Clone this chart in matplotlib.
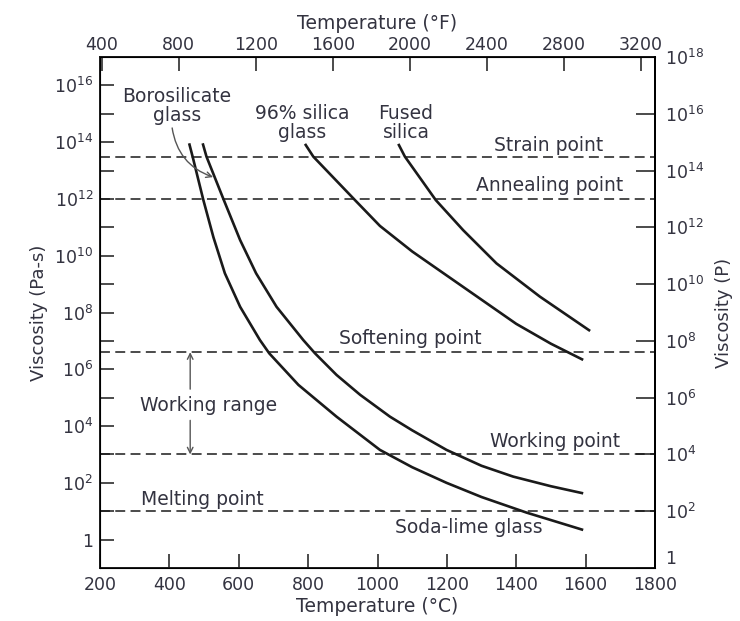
import numpy as np
import matplotlib.pyplot as plt
from matplotlib.ticker import FixedLocator, FuncFormatter, NullFormatter

plt.rcParams.update({
    "font.family": ["DejaVu Sans"],
    "mathtext.fontset": "dejavusans",
})

# temperature in deg C and log10 of viscosity in Pa-s
soda_T = [457, 467, 498, 527, 560, 604, 661, 688, 738, 772, 882, 1007, 1100, 1199, 1300, 1430, 1593]
soda_log = [13.96, 13.49, 11.96, 10.65, 9.38, 8.20, 7.03, 6.56, 5.90, 5.45, 4.33, 3.16, 2.55, 2.00, 1.50, 0.95, 0.34]

boro_T = [496, 507, 557, 604, 650, 709, 786, 820, 882, 950, 1036, 1100, 1199, 1300, 1391, 1500, 1593]
boro_log = [13.96, 13.49, 11.96, 10.55, 9.38, 8.20, 7.03, 6.56, 5.80, 5.10, 4.33, 3.85, 3.16, 2.60, 2.22, 1.88, 1.63]

silica96_T = [791, 815, 935, 1007, 1100, 1200, 1300, 1400, 1500, 1593]
silica96_log = [13.94, 13.49, 11.96, 11.05, 10.15, 9.30, 8.45, 7.60, 6.90, 6.33]

fused_T = [1060, 1079, 1168, 1247, 1343, 1468, 1613]
fused_log = [13.94, 13.49, 11.96, 10.90, 9.73, 8.56, 7.35]

# reference viscosities (Pa-s)
ref_eta = [3e13, 1e12, 4e6, 1e3, 1e1]

left_ticks = [1e0, 1e2, 1e4, 1e6, 1e8, 1e10, 1e12, 1e14, 1e16]
right_ticks_P = [1e0, 1e2, 1e4, 1e6, 1e8, 1e10, 1e12, 1e14, 1e16, 1e18]
c_ticks = [200, 400, 600, 800, 1000, 1200, 1400, 1600, 1800]
f_ticks = [400, 800, 1200, 1600, 2000, 2400, 2800, 3200]

ink = "#1a1a1a"
txt = "#333340"


def pow_label(v, pos=None):
    e = int(round(np.log10(v)))
    if e == 0:
        return "1"
    return r"$10^{%d}$" % e


fig = plt.figure(figsize=(7.4, 6.21), dpi=100)
ax = fig.add_axes([100 / 740, 1 - 568 / 621, 555 / 740, 511 / 621])

for T, lg in [(soda_T, soda_log), (boro_T, boro_log), (silica96_T, silica96_log), (fused_T, fused_log)]:
    ax.plot(T, 10 ** np.array(lg), color=ink, lw=1.9, solid_capstyle="butt",
            solid_joinstyle="round")

for eta in ref_eta:
    ax.axhline(eta, color=ink, lw=1.1, ls=(0, (6.5, 3.5)))

ax.set_yscale("log")
ax.set_xlim(200, 1800)
ax.set_ylim(1e-1, 1e17)

ax.xaxis.set_major_locator(FixedLocator(c_ticks))
ax.yaxis.set_major_locator(FixedLocator(left_ticks))
ax.yaxis.set_minor_locator(FixedLocator([10.0 ** e for e in range(1, 17, 2)]))
ax.yaxis.set_major_formatter(FuncFormatter(pow_label))
ax.yaxis.set_minor_formatter(NullFormatter())
ax.tick_params(axis="both", which="both", direction="in", length=10, width=1.1,
               color=ink, labelsize=12.5, labelcolor=txt)
ax.tick_params(axis="x", pad=6)
ax.tick_params(axis="y", pad=5)
for s in ax.spines.values():
    s.set_linewidth(1.4)
    s.set_color(ink)

ax.set_xlabel("Temperature (°C)", fontsize=13.5, color=txt, labelpad=2)
ax.set_ylabel("Viscosity (Pa-s)", fontsize=13, color=txt, labelpad=4)

# top axis in Fahrenheit
top = ax.secondary_xaxis("top", functions=(lambda c: c * 9 / 5 + 32, lambda f: (f - 32) * 5 / 9))
top.xaxis.set_major_locator(FixedLocator(f_ticks))
top.tick_params(direction="in", length=10, width=1.1, color=ink, labelsize=12.5,
                labelcolor=txt, pad=2)
top.spines["top"].set_linewidth(1.4)
top.set_xlabel("Temperature (°F)", fontsize=13.5, color=txt, labelpad=5)

# right axis in poise
rax = ax.twinx()
rax.set_yscale("log")
rax.set_ylim(1e0, 1e18)
rax.yaxis.set_major_locator(FixedLocator(right_ticks_P))
rax.yaxis.set_minor_locator(FixedLocator([]))
rax.yaxis.set_major_formatter(FuncFormatter(pow_label))
rax.tick_params(axis="y", direction="in", length=14, width=1.1, color=ink,
                labelsize=12.5, labelcolor=txt, pad=7)
rax.spines["right"].set_linewidth(1.4)
rax.set_ylabel("Viscosity (P)", fontsize=13, color=txt, labelpad=8)
# the "1" at the bottom corner sits just above the 1800 label
rax.yaxis.get_major_ticks()[0].label2.set_va("bottom")

# curve names
fs = 13.5
ax.text(422, 10 ** 15.28, "Borosilicate\nglass", ha="center", va="center", fontsize=fs,
        color=txt, linespacing=1.0)
ax.text(782, 10 ** 14.68, "96% silica\nglass", ha="center", va="center", fontsize=fs,
        color=txt, linespacing=1.0)
ax.text(1082, 10 ** 14.68, "Fused\nsilica", ha="center", va="center", fontsize=fs,
        color=txt, linespacing=1.0)
ax.text(1264, 10 ** 0.44, "Soda-lime glass", ha="center", va="center",
        fontsize=fs, color=txt)
ax.annotate("", xy=(526, 10 ** 12.77), xytext=(408, 10 ** 14.5),
            arrowprops=dict(arrowstyle="->", color="#555555", lw=1.0,
                            connectionstyle="arc3,rad=0.3", shrinkA=0, shrinkB=0))

# reference point names
ax.text(1650, 10 ** 13.9, "Strain point", ha="right", va="center", fontsize=fs, color=txt)
ax.text(1708, 10 ** 12.49, "Annealing point", ha="right", va="center", fontsize=fs, color=txt)
ax.text(1094, 10 ** 7.1, "Softening point", ha="center", va="center", fontsize=fs, color=txt)
ax.text(1699, 10 ** 3.47, "Working point", ha="right", va="center", fontsize=fs, color=txt)
ax.text(494, 10 ** 1.4, "Melting point", ha="center", va="center", fontsize=fs, color=txt)

# working range
ax.text(315, 10 ** 4.74, "Working range", ha="left", va="center", fontsize=fs, color=txt)
ax.annotate("", xy=(460, 4e6), xytext=(460, 10 ** 5.3),
            arrowprops=dict(arrowstyle="->", color="#555555", lw=1.0, shrinkA=0, shrinkB=0))
ax.annotate("", xy=(460, 1e3), xytext=(460, 10 ** 4.2),
            arrowprops=dict(arrowstyle="->", color="#555555", lw=1.0, shrinkA=0, shrinkB=0))

fig.savefig("out.png", dpi=100)
